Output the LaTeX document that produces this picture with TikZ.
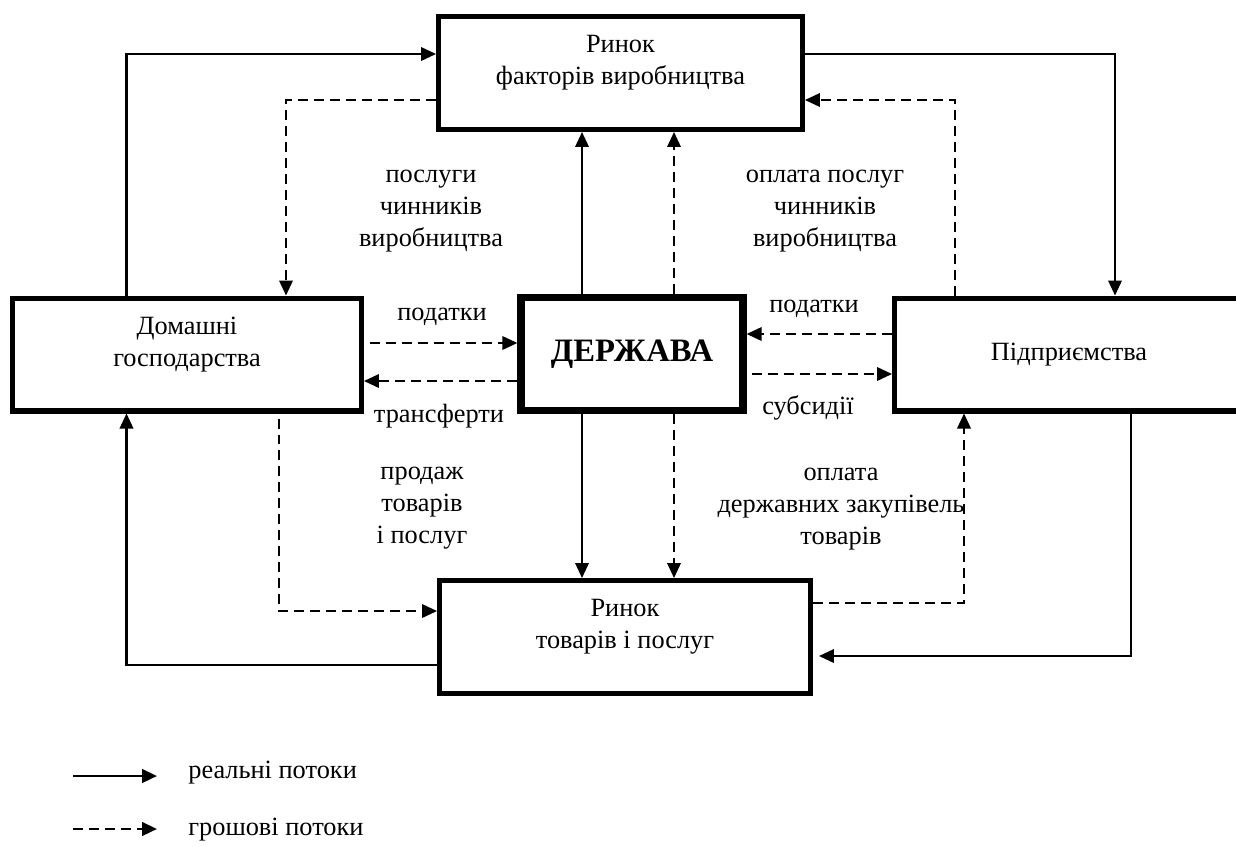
\documentclass[tikz,border=0pt]{standalone}
\usepackage{fontspec}
\setmainfont{Liberation Serif}
\usetikzlibrary{arrows.meta}

\begin{document}
\begin{tikzpicture}[x=0.02cm, y=-0.02cm,
  font=\fontsize{15}{18.2}\selectfont,
  box/.style={draw, line width=2.85pt, align=center, minimum height=2.26cm, inner sep=0pt},
  twoline/.style={text depth=0.52cm},
  lbl/.style={align=center, inner sep=0pt},
  real/.style={line width=1.15pt, -{Triangle[length=0.3cm, width=0.27cm]}},
  money/.style={real, dash pattern=on 0.2cm off 0.12cm}]
  \useasboundingbox (0,0) rectangle (1236,846);
  % markets, sectors and the state
  \node[box, twoline, minimum width=7.28cm] (fac) at (620.5,73) {Ринок\\факторів виробництва};
  \node[box, twoline, minimum width=6.98cm] (hh) at (187,354.5) {Домашні\\господарства};
  \node[box, line width=4.2pt, minimum width=4.44cm, font=\fontsize{18.6}{21}\selectfont\bfseries] (st) at (632,354) {ДЕРЖАВА};
  \node[box, minimum width=6.98cm] (fm) at (1069,354.5) {Підприємства};
  \node[box, twoline, minimum width=7.42cm] (gm) at (625,637) {Ринок\\товарів і послуг};
  % labels of the flows
  \node[lbl] (lserv) at (431,211) {послуги\\чинників\\виробництва};
  \node[lbl] (lpay) at (825,211) {оплата послуг\\чинників\\виробництва};
  \node[lbl] (ltaxh) at (442,317) {податки};
  \node[lbl] (ltrans) at (439,416) {трансферти};
  \node[lbl] (ltaxf) at (814,309) {податки};
  \node[lbl] (lsubs) at (808,408) {субсидії};
  \node[lbl] (lsale) at (422,508) {продаж\\товарів\\і послуг};
  \node[lbl] (lproc) at (841,509) {оплата\\державних закупівель\\товарів};
  % upper loop
  \draw[real] (hh.north -| 126.5,0) |- (fac.west |- 0,54);
  \draw[money] (fac.west |- 0,100) -| (hh.north -| 286,0);
  \draw[real] (fac.east |- 0,54) -| (fm.north -| 1115,0);
  \draw[money] (fm.north -| 955,0) |- (fac.east |- 0,100);
  \draw[real] (st.north -| 582,0) -- (fac.south -| 582,0);
  \draw[money] (st.north -| 674,0) -- (fac.south -| 674,0);
  % taxes, transfers, subsidies
  \draw[money, shorten <=0.12cm] (hh.east |- 0,343) -- (st.west |- 0,343);
  \draw[money] (st.west |- 0,381) -- (hh.east |- 0,381);
  \draw[money] (fm.west |- 0,334) -- (st.east |- 0,334);
  \draw[money, shorten <=0.1cm] (st.east |- 0,374) -- (fm.west |- 0,374);
  % lower loop
  \draw[money, shorten <=0.1cm] (hh.south -| 279,0) |- (gm.west |- 0,611);
  \draw[real] (gm.west |- 0,665) -| (hh.south -| 126.5,0);
  \draw[real] (st.south -| 582,0) -- (gm.north -| 582,0);
  \draw[money] (st.south -| 674,0) -- (gm.north -| 674,0);
  \draw[money] (gm.east |- 0,603) -| (fm.south -| 964,0);
  \draw[real, shorten >=0.12cm] (fm.south -| 1131,0) |- (gm.east |- 0,656);
  % legend
  \coordinate (lr1) at (73,776);
  \coordinate (lr2) at (157,776);
  \coordinate (lm1) at (73,829);
  \coordinate (lm2) at (157,829);
  \draw[real, line width=1.6pt] (lr1) -- (lr2);
  \draw[money, line width=1.6pt] (lm1) -- (lm2);
  \node[anchor=west, inner sep=0pt] (lgreal) at (188,773) {реальні потоки};
  \node[anchor=west, inner sep=0pt] (lgmoney) at (188,830) {грошові потоки};
\end{tikzpicture}
\end{document}
